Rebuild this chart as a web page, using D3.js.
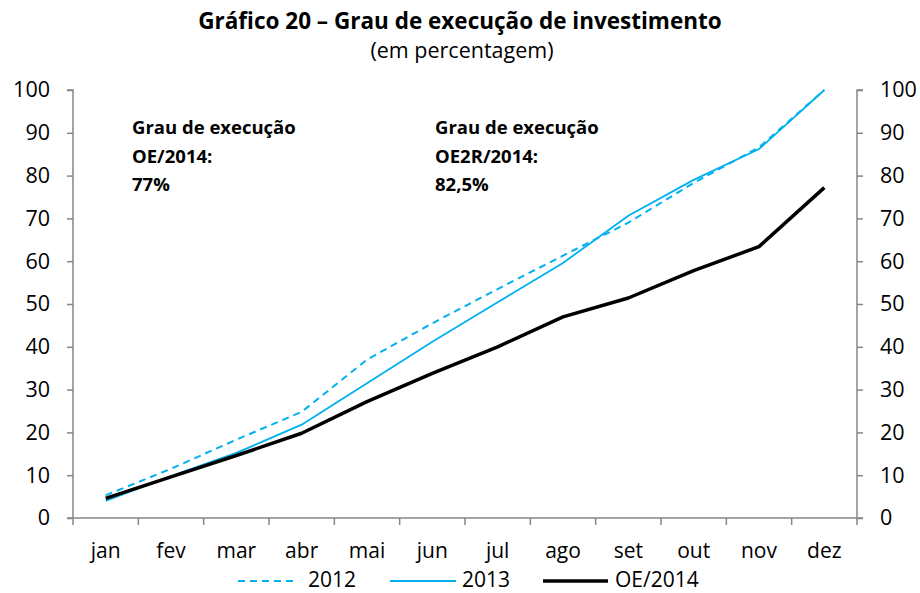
<!DOCTYPE html>
<html>
<head>
<meta charset="utf-8">
<script src="https://cdn.jsdelivr.net/npm/d3@7"></script>
<style>
  body { margin: 0; background: #fff; }
  text { font-family: "Open Sans", Lato, sans-serif; fill: #000; }
</style>
</head>
<body>
<div id="chart"></div>
<script>
// Set up conventions
let width = 920;
let height = 593;
let margin = ({top: 90, right: 63, bottom: 75, left: 73});

// data
let months = ["jan", "fev", "mar", "abr", "mai", "jun", "jul", "ago", "set", "out", "nov", "dez"];
let s2012 = [5.3, 11.5, 18.3, 24.8, 37, 45.5, 53.5, 61.3, 69, 78.3, 86.6, 100];
let s2013 = [4.0, 9.8, 15.2, 21.8, 31.5, 41.2, 50.4, 59.6, 70.6, 79, 86.2, 100];
let sOE2014 = [4.6, 9.6, 14.6, 19.8, 27.2, 33.8, 40, 47, 51.4, 57.8, 63.4, 77.2];
let yTicks = [0, 10, 20, 30, 40, 50, 60, 70, 80, 90, 100];

let blue = "#00B0F0";
let axisColor = "#868686";
let font = "'Open Sans', Lato, sans-serif";

let svg = d3.select("#chart")
    .append("svg")
    .attr("width", width)
    .attr("height", height)

// Title
svg.append("text")
    .attr("x", 460)
    .attr("y", 29)
    .attr("text-anchor", "middle")
    .style("font-size", "22.5px")
    .style("font-weight", "bold")
    .text("Gráfico 20 – Grau de execução de investimento")

svg.append("text")
    .attr("x", 462)
    .attr("y", 58)
    .attr("text-anchor", "middle")
    .style("font-size", "21.5px")
    .text("(em percentagem)")

// Scales
let xScale = d3.scaleBand()
    .domain(months)
    .range([margin.left, width - margin.right])

let yScale = d3.scaleLinear()
    .domain([0, 100])
    .range([height - margin.bottom, margin.top])

let xPos = d => xScale(d) + xScale.bandwidth() / 2

// Axes
let yAxisLeft = d3.axisLeft(yScale).tickValues(yTicks).tickSize(6).tickPadding(16)
let yAxisRight = d3.axisRight(yScale).tickValues(yTicks).tickSize(6).tickPadding(16)

let gl = svg.append("g")
    .attr("transform", "translate(" + margin.left + ",0)")
    .call(yAxisLeft)

let gr = svg.append("g")
    .attr("transform", "translate(" + (width - margin.right) + ",0)")
    .call(yAxisRight)

// x axis ticks at band boundaries
let boundaries = months.map(m => xScale(m)).concat([width - margin.right])
let gx = svg.append("g")
gx.append("line")
    .attr("x1", margin.left - 6)
    .attr("x2", width - margin.right + 6)
    .attr("y1", yScale(0))
    .attr("y2", yScale(0))
    .attr("stroke", axisColor)
    .attr("stroke-width", 1.5)
gx.selectAll(".xt")
    .data(boundaries)
    .enter()
    .append("line")
    .attr("x1", d => d)
    .attr("x2", d => d)
    .attr("y1", yScale(0))
    .attr("y2", yScale(0) + 7)
    .attr("stroke", axisColor)
    .attr("stroke-width", 1.5)
gx.selectAll(".xl")
    .data(months)
    .enter()
    .append("text")
    .attr("x", d => xPos(d))
    .attr("y", yScale(0) + 40)
    .attr("text-anchor", "middle")
    .style("font-size", "21px")
    .text(d => d)

for (let g of [gl, gr]) {
    g.select(".domain").attr("stroke", axisColor).attr("stroke-width", 1.5)
    g.selectAll(".tick line").attr("stroke", axisColor).attr("stroke-width", 1.5)
    g.selectAll(".tick text")
        .style("font-size", "21.5px")
        .style("font-family", font)
        .attr("fill", "#000")
}
gl.select(".domain").attr("d", "M-6," + yScale(100) + "H0V" + yScale(0))
gr.select(".domain").attr("d", "M6," + yScale(100) + "H0V" + yScale(0))
gl.selectAll(".tick text").attr("x", -23)
gr.selectAll(".tick text").attr("x", 23)

// Lines
let line = d3.line()
    .x((d, i) => xPos(months[i]))
    .y(d => yScale(d))

svg.append("path")
    .datum(s2012)
    .attr("d", line)
    .attr("fill", "none")
    .attr("stroke", blue)
    .attr("stroke-width", 2)
    .attr("stroke-dasharray", "7,5")

svg.append("path")
    .datum(s2013)
    .attr("d", line)
    .attr("fill", "none")
    .attr("stroke", blue)
    .attr("stroke-width", 1.8)

svg.append("path")
    .datum(sOE2014)
    .attr("d", line)
    .attr("fill", "none")
    .attr("stroke", "#000")
    .attr("stroke-width", 3.5)
    .attr("stroke-linejoin", "round")

// Annotations
let notes = [
    {x: 132, lines: ["Grau de execução", "OE/2014:", "77%"]},
    {x: 435, lines: ["Grau de execução", "OE2R/2014:", "82,5%"]}
]
notes.forEach(n => {
    n.lines.forEach((t, i) => {
        svg.append("text")
            .attr("x", n.x)
            .attr("y", 134 + i * 28.5)
            .style("font-size", "18.5px")
            .style("font-weight", "bold")
            .text(t)
    })
})

// Legend
let legend = [
    {label: "2012", color: blue, w: 2, dash: "7,5", x1: 238, x2: 298, tx: 308},
    {label: "2013", color: blue, w: 1.8, dash: null, x1: 390, x2: 456, tx: 462},
    {label: "OE/2014", color: "#000", w: 3.5, dash: null, x1: 543, x2: 608, tx: 615}
]
let ly = 581
legend.forEach(l => {
    svg.append("line")
        .attr("x1", l.x1).attr("x2", l.x2)
        .attr("y1", ly).attr("y2", ly)
        .attr("stroke", l.color)
        .attr("stroke-width", l.w)
        .attr("stroke-dasharray", l.dash)
    svg.append("text")
        .attr("x", l.tx)
        .attr("y", ly + 6)
        .style("font-size", "21px")
        .text(l.label)
})
</script>
</body>
</html>
